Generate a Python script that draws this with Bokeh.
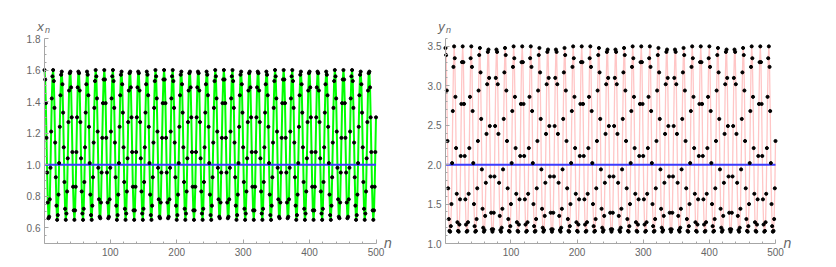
from bokeh.plotting import figure
from bokeh.layouts import row
from bokeh.models import Range1d, FixedTicker, PrintfTickFormatter, Label
from bokeh.embed import file_html
from bokeh.resources import INLINE

# ---------------- data ----------------
x_vals = [
    1.60, 1.54, 1.39, 1.17, 0.95, 0.76, 0.66, 0.67, 0.78, 0.98, 1.21, 1.42, 1.56,
    1.60, 1.53, 1.36, 1.14, 0.92, 0.74, 0.65, 0.68, 0.81, 1.01, 1.24, 1.44, 1.57,
    1.59, 1.51, 1.33, 1.11, 0.89, 0.72, 0.65, 0.69, 0.83, 1.04, 1.27, 1.47, 1.58,
    1.59, 1.49, 1.30, 1.08, 0.86, 0.71, 0.65, 0.71, 0.86, 1.08, 1.30, 1.49, 1.59,
    1.58, 1.47, 1.27, 1.04, 0.83, 0.69, 0.65, 0.72, 0.89, 1.11, 1.33, 1.51, 1.59,
    1.57, 1.44, 1.24, 1.01, 0.81, 0.68, 0.65, 0.74, 0.92, 1.14, 1.36, 1.53, 1.60,
    1.56, 1.42, 1.21, 0.98, 0.78, 0.67, 0.66, 0.76, 0.95, 1.17, 1.39, 1.54,
    1.60, 1.54, 1.39, 1.17, 0.95, 0.76, 0.66, 0.67, 0.78, 0.98, 1.21, 1.42, 1.56,
    1.60, 1.53, 1.36, 1.14, 0.92, 0.74, 0.65, 0.68, 0.81, 1.01, 1.24, 1.44, 1.57,
    1.59, 1.51, 1.33, 1.11, 0.89, 0.72, 0.65, 0.69, 0.83, 1.04, 1.27, 1.47, 1.58,
    1.59, 1.49, 1.30, 1.08, 0.86, 0.71, 0.65, 0.71, 0.86, 1.08, 1.30, 1.49, 1.59,
    1.58, 1.47, 1.27, 1.04, 0.83, 0.69, 0.65, 0.72, 0.89, 1.11, 1.33, 1.51, 1.59,
    1.57, 1.44, 1.24, 1.01, 0.81, 0.68, 0.65, 0.74, 0.92, 1.14, 1.36, 1.53, 1.60,
    1.56, 1.42, 1.21, 0.98, 0.78, 0.67, 0.66, 0.76, 0.95, 1.17, 1.39, 1.54,
    1.60, 1.54, 1.39, 1.17, 0.95, 0.76, 0.66, 0.67, 0.78, 0.98, 1.21, 1.42, 1.56,
    1.60, 1.53, 1.36, 1.14, 0.92, 0.74, 0.65, 0.68, 0.81, 1.01, 1.24, 1.44, 1.57,
    1.59, 1.51, 1.33, 1.11, 0.89, 0.72, 0.65, 0.69, 0.83, 1.04, 1.27, 1.47, 1.58,
    1.59, 1.49, 1.30, 1.08, 0.86, 0.71, 0.65, 0.71, 0.86, 1.08, 1.30, 1.49, 1.59,
    1.58, 1.47, 1.27, 1.04, 0.83, 0.69, 0.65, 0.72, 0.89, 1.11, 1.33, 1.51, 1.59,
    1.57, 1.44, 1.24, 1.01, 0.81, 0.68, 0.65, 0.74, 0.92, 1.14, 1.36, 1.53, 1.60,
    1.56, 1.42, 1.21, 0.98, 0.78, 0.67, 0.66, 0.76, 0.95, 1.17, 1.39, 1.54,
    1.60, 1.54, 1.39, 1.17, 0.95, 0.76, 0.66, 0.67, 0.78, 0.98, 1.21, 1.42, 1.56,
    1.60, 1.53, 1.36, 1.14, 0.92, 0.74, 0.65, 0.68, 0.81, 1.01, 1.24, 1.44, 1.57,
    1.59, 1.51, 1.33, 1.11, 0.89, 0.72, 0.65, 0.69, 0.83, 1.04, 1.27, 1.47, 1.58,
    1.59, 1.49, 1.30, 1.08, 0.86, 0.71, 0.65, 0.71, 0.86, 1.08, 1.30, 1.49, 1.59,
    1.58, 1.47, 1.27, 1.04, 0.83, 0.69, 0.65, 0.72, 0.89, 1.11, 1.33, 1.51, 1.59,
    1.57, 1.44, 1.24, 1.01, 0.81, 0.68, 0.65, 0.74, 0.92, 1.14, 1.36, 1.53, 1.60,
    1.56, 1.42, 1.21, 0.98, 0.78, 0.67, 0.66, 0.76, 0.95, 1.17, 1.39, 1.54,
    1.60, 1.54, 1.39, 1.17, 0.95, 0.76, 0.66, 0.67, 0.78, 0.98, 1.21, 1.42, 1.56,
    1.60, 1.53, 1.36, 1.14, 0.92, 0.74, 0.65, 0.68, 0.81, 1.01, 1.24, 1.44, 1.57,
    1.59, 1.51, 1.33, 1.11, 0.89, 0.72, 0.65, 0.69, 0.83, 1.04, 1.27, 1.47, 1.58,
    1.59, 1.49, 1.30, 1.08, 0.86, 0.71, 0.65, 0.71, 0.86, 1.08, 1.30, 1.49, 1.59,
    1.58, 1.47, 1.27, 1.04, 0.83, 0.69, 0.65, 0.72, 0.89, 1.11, 1.33, 1.51, 1.59,
    1.57, 1.44, 1.24, 1.01, 0.81, 0.68, 0.65, 0.74, 0.92, 1.14, 1.36, 1.53, 1.60,
    1.56, 1.42, 1.21, 0.98, 0.78, 0.67, 0.66, 0.76, 0.95, 1.17, 1.39, 1.54,
    1.60, 1.54, 1.39, 1.17, 0.95, 0.76, 0.66, 0.67, 0.78, 0.98, 1.21, 1.42, 1.56,
    1.60, 1.53, 1.36, 1.14, 0.92, 0.74, 0.65, 0.68, 0.81, 1.01, 1.24, 1.44, 1.57,
    1.59, 1.51, 1.33, 1.11, 0.89, 0.72, 0.65, 0.69, 0.83, 1.04, 1.27, 1.47, 1.58,
    1.59, 1.49, 1.30, 1.08, 0.86, 0.71, 0.65, 0.71, 0.86, 1.08, 1.30,
]

y_vals = [
    3.48, 3.39, 2.94, 2.30, 1.70, 1.31, 1.16, 1.15, 1.22, 1.50, 2.02, 2.68, 3.24,
    3.50, 3.35, 2.86, 2.21, 1.63, 1.27, 1.16, 1.15, 1.24, 1.56, 2.11, 2.77, 3.30,
    3.50, 3.30, 2.77, 2.11, 1.56, 1.24, 1.15, 1.16, 1.27, 1.63, 2.21, 2.86, 3.35,
    3.50, 3.24, 2.68, 2.02, 1.50, 1.22, 1.15, 1.16, 1.31, 1.70, 2.30, 2.94, 3.39,
    3.48, 3.17, 2.58, 1.94, 1.44, 1.20, 1.15, 1.17, 1.35, 1.77, 2.39, 3.02, 3.43,
    3.46, 3.10, 2.49, 1.85, 1.39, 1.18, 1.15, 1.18, 1.39, 1.85, 2.49, 3.10, 3.46,
    3.43, 3.02, 2.39, 1.77, 1.35, 1.17, 1.15, 1.20, 1.44, 1.94, 2.58, 3.17,
    3.48, 3.39, 2.94, 2.30, 1.70, 1.31, 1.16, 1.15, 1.22, 1.50, 2.02, 2.68, 3.24,
    3.50, 3.35, 2.86, 2.21, 1.63, 1.27, 1.16, 1.15, 1.24, 1.56, 2.11, 2.77, 3.30,
    3.50, 3.30, 2.77, 2.11, 1.56, 1.24, 1.15, 1.16, 1.27, 1.63, 2.21, 2.86, 3.35,
    3.50, 3.24, 2.68, 2.02, 1.50, 1.22, 1.15, 1.16, 1.31, 1.70, 2.30, 2.94, 3.39,
    3.48, 3.17, 2.58, 1.94, 1.44, 1.20, 1.15, 1.17, 1.35, 1.77, 2.39, 3.02, 3.43,
    3.46, 3.10, 2.49, 1.85, 1.39, 1.18, 1.15, 1.18, 1.39, 1.85, 2.49, 3.10, 3.46,
    3.43, 3.02, 2.39, 1.77, 1.35, 1.17, 1.15, 1.20, 1.44, 1.94, 2.58, 3.17,
    3.48, 3.39, 2.94, 2.30, 1.70, 1.31, 1.16, 1.15, 1.22, 1.50, 2.02, 2.68, 3.24,
    3.50, 3.35, 2.86, 2.21, 1.63, 1.27, 1.16, 1.15, 1.24, 1.56, 2.11, 2.77, 3.30,
    3.50, 3.30, 2.77, 2.11, 1.56, 1.24, 1.15, 1.16, 1.27, 1.63, 2.21, 2.86, 3.35,
    3.50, 3.24, 2.68, 2.02, 1.50, 1.22, 1.15, 1.16, 1.31, 1.70, 2.30, 2.94, 3.39,
    3.48, 3.17, 2.58, 1.94, 1.44, 1.20, 1.15, 1.17, 1.35, 1.77, 2.39, 3.02, 3.43,
    3.46, 3.10, 2.49, 1.85, 1.39, 1.18, 1.15, 1.18, 1.39, 1.85, 2.49, 3.10, 3.46,
    3.43, 3.02, 2.39, 1.77, 1.35, 1.17, 1.15, 1.20, 1.44, 1.94, 2.58, 3.17,
    3.48, 3.39, 2.94, 2.30, 1.70, 1.31, 1.16, 1.15, 1.22, 1.50, 2.02, 2.68, 3.24,
    3.50, 3.35, 2.86, 2.21, 1.63, 1.27, 1.16, 1.15, 1.24, 1.56, 2.11, 2.77, 3.30,
    3.50, 3.30, 2.77, 2.11, 1.56, 1.24, 1.15, 1.16, 1.27, 1.63, 2.21, 2.86, 3.35,
    3.50, 3.24, 2.68, 2.02, 1.50, 1.22, 1.15, 1.16, 1.31, 1.70, 2.30, 2.94, 3.39,
    3.48, 3.17, 2.58, 1.94, 1.44, 1.20, 1.15, 1.17, 1.35, 1.77, 2.39, 3.02, 3.43,
    3.46, 3.10, 2.49, 1.85, 1.39, 1.18, 1.15, 1.18, 1.39, 1.85, 2.49, 3.10, 3.46,
    3.43, 3.02, 2.39, 1.77, 1.35, 1.17, 1.15, 1.20, 1.44, 1.94, 2.58, 3.17,
    3.48, 3.39, 2.94, 2.30, 1.70, 1.31, 1.16, 1.15, 1.22, 1.50, 2.02, 2.68, 3.24,
    3.50, 3.35, 2.86, 2.21, 1.63, 1.27, 1.16, 1.15, 1.24, 1.56, 2.11, 2.77, 3.30,
    3.50, 3.30, 2.77, 2.11, 1.56, 1.24, 1.15, 1.16, 1.27, 1.63, 2.21, 2.86, 3.35,
    3.50, 3.24, 2.68, 2.02, 1.50, 1.22, 1.15, 1.16, 1.31, 1.70, 2.30, 2.94, 3.39,
    3.48, 3.17, 2.58, 1.94, 1.44, 1.20, 1.15, 1.17, 1.35, 1.77, 2.39, 3.02, 3.43,
    3.46, 3.10, 2.49, 1.85, 1.39, 1.18, 1.15, 1.18, 1.39, 1.85, 2.49, 3.10, 3.46,
    3.43, 3.02, 2.39, 1.77, 1.35, 1.17, 1.15, 1.20, 1.44, 1.94, 2.58, 3.17,
    3.48, 3.39, 2.94, 2.30, 1.70, 1.31, 1.16, 1.15, 1.22, 1.50, 2.02, 2.68, 3.24,
    3.50, 3.35, 2.86, 2.21, 1.63, 1.27, 1.16, 1.15, 1.24, 1.56, 2.11, 2.77, 3.30,
    3.50, 3.30, 2.77, 2.11, 1.56, 1.24, 1.15, 1.16, 1.27, 1.63, 2.21, 2.86, 3.35,
    3.50, 3.24, 2.68, 2.02, 1.50, 1.22, 1.15, 1.16, 1.31, 1.70, 2.30,
]

x_equilibrium = 1.0
y_equilibrium = 2.0

n_first, n_last = 1, 500
x_axis_min, x_axis_max = 0.5, 1.8
y_axis_min, y_axis_max = 1.0, 3.6

n_major_ticks = [100, 200, 300, 400, 500]
n_minor_ticks = [20, 40, 60, 80, 120, 140, 160, 180, 220, 240, 260, 280,
                 320, 340, 360, 380, 420, 440, 460, 480]
x_major_ticks = [0.6, 0.8, 1.0, 1.2, 1.4, 1.6, 1.8]
x_minor_ticks = [0.5, 0.55, 0.65, 0.7, 0.75, 0.85, 0.9, 0.95, 1.05, 1.1, 1.15,
                 1.25, 1.3, 1.35, 1.45, 1.5, 1.55, 1.65, 1.7, 1.75]
y_major_ticks = [1.0, 1.5, 2.0, 2.5, 3.0, 3.5]
y_minor_ticks = [1.1, 1.2, 1.3, 1.4, 1.6, 1.7, 1.8, 1.9, 2.1, 2.2, 2.3, 2.4,
                 2.6, 2.7, 2.8, 2.9, 3.1, 3.2, 3.3, 3.4, 3.6]

AXIS_GRAY = "#a6a6a6"
LABEL_GRAY = "#666666"
FONT = "Liberation Sans"


def make_panel(width, height, ax_left_px, ax_right_px, ax_top_px, ax_bottom_px,
               ymin, ymax, ymaj, yminor):
    # pixel -> data conversions so that the axes sit at the reference positions
    sx = (n_last - n_first) / (ax_right_px - ax_left_px)
    sy = (ymax - ymin) / (ax_bottom_px - ax_top_px)
    xr = Range1d(n_first - ax_left_px * sx, n_last + (width - ax_right_px) * sx)
    yr = Range1d(ymin - (height - ax_bottom_px) * sy, ymax + ax_top_px * sy)
    p = figure(frame_width=width, frame_height=height, min_border=0,
               x_range=xr, y_range=yr, output_backend="svg", toolbar_location=None)
    p.grid.visible = False
    p.outline_line_color = None
    p.background_fill_color = "white"
    p.border_fill_color = "white"
    p.xaxis.fixed_location = ymin
    p.xaxis.bounds = (n_first, n_last)
    p.yaxis.fixed_location = n_first
    p.yaxis.bounds = (ymin, ymax)
    p.xaxis.ticker = FixedTicker(ticks=n_major_ticks, minor_ticks=n_minor_ticks)
    p.yaxis.ticker = FixedTicker(ticks=ymaj, minor_ticks=yminor)
    p.yaxis.formatter = PrintfTickFormatter(format="%.1f")
    for ax in (p.xaxis[0], p.yaxis[0]):
        ax.axis_line_color = AXIS_GRAY
        ax.axis_line_width = 1
        ax.major_tick_line_color = AXIS_GRAY
        ax.minor_tick_line_color = AXIS_GRAY
        ax.major_tick_in = 4
        ax.major_tick_out = 0
        ax.minor_tick_in = 2
        ax.minor_tick_out = 0
        ax.major_label_text_color = LABEL_GRAY
        ax.major_label_text_font = FONT
        ax.major_label_text_font_size = "10px"
        ax.major_label_standoff = 4
    return p, sx, sy


def add_labels(p, var, sx, sy, ymin, ymax):
    # variable name above the vertical axis, with subscript n
    p.add_layout(Label(x=n_first - 4 * sx, y=ymax + 12.5 * sy, text=var,
                       text_font=FONT, text_font_style="italic",
                       text_font_size="13px", text_color=LABEL_GRAY,
                       text_align="center", text_baseline="middle"))
    p.add_layout(Label(x=n_first + 3 * sx, y=ymax + 9 * sy, text="n",
                       text_font=FONT, text_font_style="italic",
                       text_font_size="9px", text_color=LABEL_GRAY,
                       text_align="center", text_baseline="middle"))
    # axis name at the right end of the horizontal axis
    p.add_layout(Label(x=n_last + 12 * sx, y=ymin + 1 * sy, text="n",
                       text_font=FONT, text_font_style="italic",
                       text_font_size="14px", text_color=LABEL_GRAY,
                       text_align="center", text_baseline="middle"))


n_x = list(range(n_first, n_first + len(x_vals)))
n_y = list(range(n_first, n_first + len(y_vals)))

# ---------------- left panel ----------------
p1, sx1, sy1 = make_panel(408, 262, 44, 375.5, 38, 243,
                          x_axis_min, x_axis_max, x_major_ticks, x_minor_ticks)
p1.line(n_x, x_vals, line_color="#00ff00", line_width=2)
p1.line([n_x[0], n_x[-1]], [x_equilibrium, x_equilibrium], line_color="#3c3cff", line_width=2)
p1.scatter(n_x, x_vals, size=3.1, fill_color="black", line_color="black")
add_labels(p1, "x", sx1, sy1, x_axis_min, x_axis_max)

# ---------------- right panel ----------------
p2, sx2, sy2 = make_panel(420, 262, 37, 367, 38, 243,
                          y_axis_min, y_axis_max, y_major_ticks, y_minor_ticks)
p2.line(n_y, y_vals, line_color="#ffc6c6", line_width=1.3)
p2.line([n_y[0], n_y[-1]], [y_equilibrium, y_equilibrium], line_color="#3c3cff", line_width=2)
p2.scatter(n_y, y_vals, size=3.1, fill_color="black", line_color="black")
add_labels(p2, "y", sx2, sy2, y_axis_min, y_axis_max)

layout = row(p1, p2)
open("out.html", "w").write(file_html(layout, INLINE))
